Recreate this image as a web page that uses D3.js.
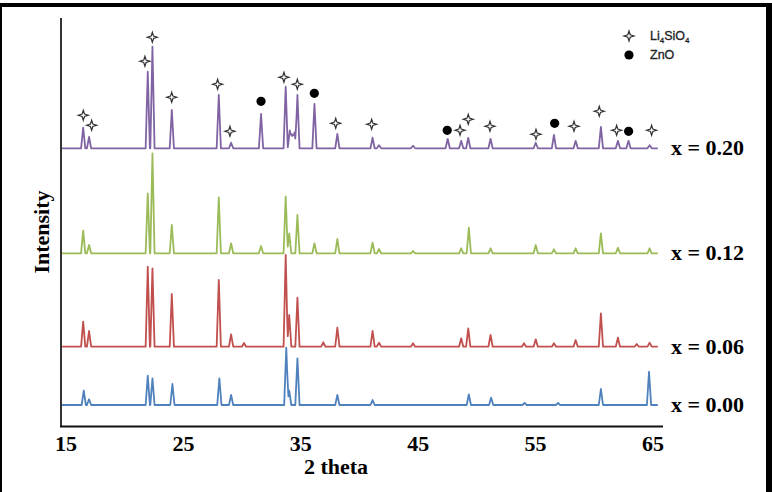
<!DOCTYPE html>
<html lang="en">
<head>
    <meta charset="UTF-8">
    <title>xrd</title>
    <script src="https://d3js.org/d3.v7.min.js"></script>
    <style>
        body { margin: 0; background: #fff; }
        .lbl { font-family: "Liberation Serif", "Times New Roman", serif; font-weight: bold; font-size: 22px; fill: #000; }
        .leg { font-family: "Liberation Sans", Arial, sans-serif; font-size: 12.5px; fill: #222; stroke: #222; stroke-width: 0.3; }
    </style>
</head>
<body>
<script>
    const width = 772
    const height = 492

    // peaks: [2 theta, height above the pattern's own baseline]
    const s000 = [[16.6, 14.3], [17.05, 5.7], [22.05, 29.3], [22.45, 26.7], [24.15, 21], [28.15, 26.7], [29.15, 10],
        [33.85, 57.3], [34.1, 14.3], [34.8, 46.7], [38.2, 10], [41.2, 5], [49.4, 10.7], [51.3, 7.3], [54.15, 2],
        [57.0, 2], [60.65, 16], [64.75, 33.3]]
    const s006 = [[16.55, 25], [17.05, 15.7], [22.05, 80], [22.45, 78.4], [24.1, 52.7], [28.1, 66.7], [29.15, 12.4],
        [30.25, 3.7], [33.8, 91.7], [34.1, 31.7], [34.8, 49], [37.0, 4.4], [38.2, 19], [41.2, 15.7], [41.75, 4],
        [44.65, 3.4], [48.75, 8.4], [49.35, 18.4], [51.25, 11.7], [54.1, 3.4], [55.1, 7.4], [56.65, 3.4], [58.5, 6.7],
        [60.65, 33.4], [62.1, 9], [63.7, 2.7], [64.8, 4]]
    const s012 = [[16.55, 22.6], [17.05, 8.3], [22.05, 60], [22.45, 100], [24.1, 28.3], [28.1, 56], [29.15, 10],
        [31.7, 7.3], [33.8, 57], [34.1, 20], [34.8, 38.3], [36.25, 10], [38.2, 14.3], [41.2, 10.6], [41.75, 4.3],
        [44.65, 2.3], [48.75, 5], [49.4, 25.6], [51.25, 5], [55.1, 8.3], [56.65, 4], [58.5, 5], [60.65, 20],
        [62.1, 5.6], [64.8, 5]]
    const s020 = [[16.55, 20.6], [17.05, 11.3], [22.05, 76.6], [22.45, 101.6], [24.1, 38.3], [28.1, 53.3], [29.15, 5.6],
        [31.7, 34.3], [33.8, 61.6], [34.15, 18], [34.35, 14], [34.55, 16], [34.8, 53.3], [36.25, 44.3], [38.2, 14.3],
        [41.2, 10.6], [41.75, 3], [44.65, 2.6], [47.6, 9.5], [48.75, 7.5], [49.35, 10.5], [51.25, 9.5], [55.1, 5.5],
        [56.65, 13.5], [58.5, 7.5], [60.65, 21.5], [62.1, 7.5], [63.0, 7.5], [64.8, 3]]

    const labels = ['x = 0.00', 'x = 0.06', 'x = 0.12', 'x = 0.20']
    const offsets = [22, 80.3, 173.7, 278.7]
    const colors = ['#4f81bd', '#c0504d', '#9bbb59', '#8064a2']
    const seriesList = [s000, s006, s012, s020]

    // phase marks above the x = 0.20 pattern: [2 theta, height above its baseline]
    const liMarks = [[16.56, 33], [17.27, 23], [21.81, 87], [22.44, 111], [24.09, 51], [28.0, 64], [29.05, 17],
        [33.65, 71], [34.79, 64], [38.06, 25], [41.12, 24], [48.65, 18], [49.35, 29], [51.2, 22], [55.12, 14],
        [58.36, 22], [60.51, 37], [61.99, 18], [64.97, 18]]
    const znoMarks = [[31.7, 47], [36.24, 55], [47.56, 18], [56.71, 25], [63.01, 17]]

    const xTicks = [15, 25, 35, 45, 55, 65]
    const thetaStart = 14.75
    const thetaEnd = 65.5

    const x = d3.scaleLinear().domain([14.66, 65.94]).range([61, 663])
    const y = d3.scaleLinear().domain([0, 410]).range([427, 17])

    const svg = d3.select("body").append("svg")
        .attr("width", width)
        .attr("height", height)

    const defs = svg.append("defs")
    const f = defs.append("filter").attr("id", "rough")
        .attr("x", "-2%").attr("y", "-10%").attr("width", "104%").attr("height", "120%")
    f.append("feTurbulence").attr("type", "fractalNoise").attr("baseFrequency", "0.6")
        .attr("numOctaves", 1).attr("seed", 3).attr("result", "n")
    f.append("feDisplacementMap").attr("in", "SourceGraphic").attr("in2", "n")
        .attr("scale", 1.1).attr("xChannelSelector", "R").attr("yChannelSelector", "G")

    // outer frame of the figure
    svg.append("rect").attr("x", 0).attr("y", 3).attr("width", 770).attr("height", 4).attr("fill", "#000")
    svg.append("rect").attr("x", 0).attr("y", 3).attr("width", 2).attr("height", height).attr("fill", "#000")
    svg.append("rect").attr("x", 766).attr("y", 3).attr("width", 6).attr("height", height).attr("fill", "#000")

    const w = 0.18
    function profile(peaks) {
        let ts = [thetaStart, thetaEnd]
        peaks.forEach(function (p) {
            ts.push(p[0] - w, p[0], p[0] + w)
        })
        ts = ts.filter(function (t) { return t >= thetaStart && t <= thetaEnd }).sort(d3.ascending)
        return ts.map(function (t) {
            let v = 0
            peaks.forEach(function (p) {
                v = Math.max(v, p[1] * (1 - Math.abs(t - p[0]) / w))
            })
            return [t, v]
        })
    }

    const line = d3.line()
        .x(function (d) { return x(d[0]) })
        .y(function (d) { return d[1] })

    seriesList.forEach(function (s, i) {
        const pts = profile(s).map(function (d) { return [d[0], y(d[1] + offsets[i])] })
        svg.append("path")
            .attr("d", line(pts))
            .attr("fill", "none")
            .attr("stroke", colors[i])
            .attr("stroke-width", 1.8)
            .attr("stroke-linejoin", "round")
            .attr("filter", "url(#rough)")
        svg.append("text")
            .attr("class", "lbl")
            .attr("x", 671)
            .attr("y", y(offsets[i]) + 7)
            .text(labels[i])
    })

    const starPath = "M0,-5L1.2,-1.2L5,0L1.2,1.2L0,5L-1.2,1.2L-5,0L-1.2,-1.2Z"
    const base = offsets[3]
    svg.selectAll(".li").data(liMarks).enter().append("path")
        .attr("class", "li")
        .attr("d", starPath)
        .attr("transform", function (d) { return "translate(" + x(d[0]) + "," + y(d[1] + base) + ")" })
        .attr("fill", "#fff").attr("stroke", "#333").attr("stroke-width", 1.2)
    svg.selectAll(".zno").data(znoMarks).enter().append("circle")
        .attr("class", "zno")
        .attr("cx", function (d) { return x(d[0]) })
        .attr("cy", function (d) { return y(d[1] + base) })
        .attr("r", 4.6).attr("fill", "#000")

    // axes
    svg.append("line").attr("x1", 61).attr("x2", 61).attr("y1", 18).attr("y2", 427)
        .attr("stroke", "#333").attr("stroke-width", 2)
    svg.append("line").attr("x1", 60).attr("x2", 663).attr("y1", 426.5).attr("y2", 426.5)
        .attr("stroke", "#111").attr("stroke-width", 2)

    svg.selectAll(".tick").data(xTicks).enter().append("text")
        .attr("class", "lbl tick")
        .attr("x", function (d) { return x(d) + 1 })
        .attr("y", 451)
        .attr("text-anchor", "middle")
        .text(function (d) { return d })

    svg.append("text").attr("class", "lbl")
        .attr("x", 336).attr("y", 474).attr("text-anchor", "middle").text("2 theta")
    svg.append("text").attr("class", "lbl")
        .attr("transform", "translate(49,232) rotate(-90)")
        .attr("text-anchor", "middle").text("Intensity")

    // legend
    svg.append("path").attr("d", starPath).attr("transform", "translate(629,36)")
        .attr("fill", "#fff").attr("stroke", "#333").attr("stroke-width", 1.2)
    const lt = svg.append("text").attr("class", "leg").attr("x", 650).attr("y", 40)
    lt.append("tspan").text("Li")
    lt.append("tspan").attr("font-size", 8).attr("dy", 3).text("4")
    lt.append("tspan").attr("dy", -3).text("SiO")
    lt.append("tspan").attr("font-size", 8).attr("dy", 3).text("4")
    svg.append("circle").attr("cx", 629).attr("cy", 55).attr("r", 4.6).attr("fill", "#000")
    svg.append("text").attr("class", "leg").attr("x", 650).attr("y", 59).text("ZnO")
</script>
</body>
</html>
